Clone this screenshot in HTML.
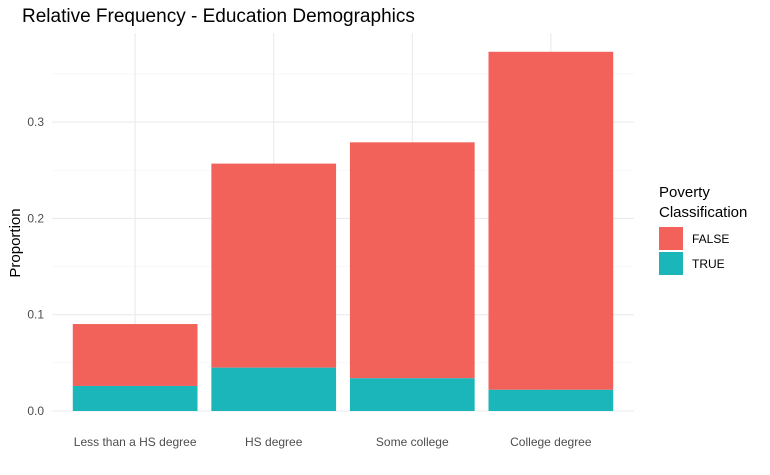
<!DOCTYPE html>
<html><head><meta charset="utf-8"><style>
body{margin:0;background:#fff;font-family:"Liberation Sans",sans-serif}
svg{display:block}
</style></head><body>
<svg id="chart" width="770" height="475">
<text x="22" y="22" font-size="19" fill="#000">Relative Frequency - Education Demographics</text>
<g id="grid"></g><g id="bars"></g><g id="axes"></g>
<text transform="translate(20,243) rotate(-90)" text-anchor="middle" font-size="15" fill="#000">Proportion</text>
<g>
<text x="659" y="197" font-size="15">Poverty</text>
<text x="659" y="217" font-size="15">Classification</text>
<rect x="659" y="227" width="24" height="23" fill="#F3615B"/>
<text x="692" y="243" font-size="12">FALSE</text>
<rect x="659" y="252" width="24" height="23" fill="#1BB6B9"/>
<text x="692" y="268" font-size="12">TRUE</text>
</g>
</svg>
<script>
const categories=["Less than a HS degree","HS degree","Some college","College degree"];
const trueVals=[0.026,0.045,0.034,0.022];
const falseVals=[0.0643,0.2119,0.245,0.351];
const yTicks=[0,0.1,0.2,0.3];
const yTickLabels=["0.0","0.1","0.2","0.3"];
const NS="http://www.w3.org/2000/svg";
const L=52,R=634,T=33,B=411,yScale=963;
const y=v=>B-v*yScale;
const step=(R-L)/(categories.length-1+1.2);
const xc=i=>L+step*(i+0.6);
const bw=step*0.9;
function mk(tag,attrs,parent){const e=document.createElementNS(NS,tag);for(const k in attrs)e.setAttribute(k,attrs[k]);parent.appendChild(e);return e;}
const grid=document.getElementById('grid'),bars=document.getElementById('bars'),axes=document.getElementById('axes');
for(let i=0;i<yTicks.length;i++){
  const g=mk('line',{x1:L,x2:R,y1:y(yTicks[i]),y2:y(yTicks[i]),stroke:'#ebebeb','stroke-width':1.1},grid);
  
  
  const m=mk('line',{x1:L,x2:R,y1:y(yTicks[i]+0.05),y2:y(yTicks[i]+0.05),stroke:'#f3f3f3','stroke-width':0.6},grid);
  
  
  const t=mk('text',{x:44,y:y(yTicks[i])+4,'text-anchor':'end','font-size':12,fill:'#4d4d4d'},axes);
  t.textContent=yTickLabels[i];
  
  
}
categories.forEach((c,i)=>{
  const v=mk('line',{x1:xc(i),x2:xc(i),y1:T,y2:B,stroke:'#ebebeb','stroke-width':1.1},grid);
  
  
  const tot=trueVals[i]+falseVals[i];
  const f=mk('rect',{x:xc(i)-bw/2,y:y(tot),width:bw,height:y(trueVals[i])-y(tot),fill:'#F3615B'},bars);
  
  
  const t=mk('rect',{x:xc(i)-bw/2,y:y(trueVals[i]),width:bw,height:B-y(trueVals[i]),fill:'#1BB6B9'},bars);
  
  
  const l=mk('text',{x:xc(i),y:446,'text-anchor':'middle','font-size':12,fill:'#4d4d4d'},axes);
  l.textContent=c;
  
  
});
</script>
</body></html>
